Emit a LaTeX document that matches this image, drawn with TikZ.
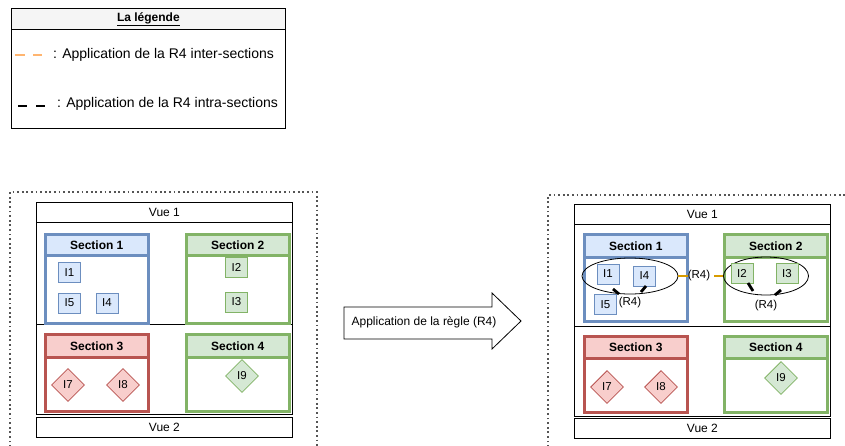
\documentclass[tikz,border=0pt]{standalone}
\usepackage{fontspec}
\setmainfont{Liberation Sans}
\usetikzlibrary{shapes.geometric}
\definecolor{bstroke}{HTML}{6C8EBF}
\definecolor{bfill}{HTML}{DAE8FC}
\definecolor{gstroke}{HTML}{82B366}
\definecolor{gfill}{HTML}{D5E8D4}
\definecolor{rstroke}{HTML}{B85450}
\definecolor{rfill}{HTML}{F8CECC}
\definecolor{orleg}{HTML}{FFB570}
\definecolor{ordia}{HTML}{D79B00}
\definecolor{hdrgrey}{HTML}{F5F5F5}
\definecolor{dotgrey}{HTML}{555555}
\tikzset{
  f14/.style={font=\fontsize{14}{16}\selectfont},
  f12/.style={font=\fontsize{12}{14}\selectfont},
  f11/.style={font=\fontsize{11.5}{13}\selectfont},
  secbody/.style={draw=#1, line width=2.5pt, minimum width=103pt, inner sep=0pt, anchor=north west, fill=white},
  sechead/.style n args={2}{draw=#1, fill=#2, line width=2.5pt, minimum width=103pt, inner sep=0pt, anchor=north west, font=\fontsize{12}{14}\selectfont\bfseries},
  itembox/.style n args={2}{draw=#1, fill=#2, line width=1pt, minimum width=22pt, minimum height=20pt, inner sep=0pt, font=\fontsize{11.5}{13}\selectfont},
  itemdia/.style n args={2}{diamond, draw=#1, fill=#2, line width=0.8pt, minimum width=33pt, minimum height=33pt, inner sep=0pt, font=\fontsize{11.5}{13}\selectfont},
  vuebox/.style={draw=black, line width=0.8pt, minimum width=256pt, minimum height=20pt, inner sep=0pt, anchor=north west, font=\fontsize{12}{14}\selectfont},
  mainbox/.style={draw=black, line width=0.8pt, minimum width=256pt, inner sep=0pt, anchor=north west},
  dotframe/.style={draw=dotgrey, line width=1.1pt, dash pattern=on 1.8pt off 2.8pt},
  intra/.style={line width=2.8pt, black},
  inter/.style={line width=2.8pt, ordia},
}
\begin{document}
\begin{tikzpicture}[x=1pt,y=-1pt]
\useasboundingbox (0,0) rectangle (845,445);
\clip (0,0) rectangle (845,445);

% ---------- legend ----------
\node[draw=black, line width=0.8pt, minimum width=274pt, minimum height=120pt, inner sep=0pt, anchor=north west] (leg) at (11,8) {};
\node[draw=black, fill=hdrgrey, line width=0.8pt, minimum width=274pt, minimum height=21pt, inner sep=0pt, anchor=north west, font=\fontsize{12}{14}\selectfont\bfseries] (leghead) at (11,8) {\underline{La légende}};
\coordinate (lo1) at (15,55); \coordinate (lo2) at (42,55);
\draw[line width=2.8pt, orleg, dash pattern=on 10pt off 8pt] (lo1) -- (lo2);
\node[f14, anchor=west, inner sep=0pt] (legt1) at (53,55) {: Application de la R4 inter-sections};
\coordinate (lb1) at (18,106); \coordinate (lb2) at (45,106);
\draw[line width=2.8pt, black, dash pattern=on 9pt off 9pt] (lb1) -- (lb2);
\node[f14, anchor=west, inner sep=0pt] (legt2) at (57,104) {: Application de la R4 intra-sections};

% ---------- left group ----------
\draw[dotframe] (10,470) -- (10,192) -- (317,192) -- (317,470);
\node[vuebox] (lv1) at (36,202) {Vue 1};
\node[mainbox, minimum height=192pt] (lmain) at (36,222) {};
\draw[line width=0.8pt] (36,324) -- (292,324);
\node[vuebox] (lv2) at (36,417) {Vue 2};

\node[secbody=bstroke, minimum height=89pt] (ls1) at (44,233) {};
\node[sechead={bstroke}{bfill}, minimum height=21pt] (ls1h) at (44,233) {Section 1};
\node[secbody=gstroke, minimum height=89pt] (ls2) at (185,233) {};
\node[sechead={gstroke}{gfill}, minimum height=21pt] (ls2h) at (185,233) {Section 2};
\node[secbody=rstroke, minimum height=77pt] (ls3) at (44,333) {};
\node[sechead={rstroke}{rfill}, minimum height=23pt] (ls3h) at (44,333) {Section 3};
\node[secbody=gstroke, minimum height=77pt] (ls4) at (185,333) {};
\node[sechead={gstroke}{gfill}, minimum height=23pt] (ls4h) at (185,333) {Section 4};

\node[itembox={bstroke}{bfill}] (li1) at (69.5,272.5) {I1};
\node[itembox={bstroke}{bfill}] (li5) at (69.5,303) {I5};
\node[itembox={bstroke}{bfill}] (li4) at (107,303) {I4};
\node[itembox={gstroke}{gfill}] (li2) at (236.5,267) {I2};
\node[itembox={gstroke}{gfill}] (li3) at (236.5,302) {I3};
\node[itemdia={rstroke}{rfill}] (li7) at (68,385) {I7};
\node[itemdia={rstroke}{rfill}] (li8) at (123,385) {I8};
\node[itemdia={gstroke}{gfill}] (li9) at (242,376) {I9};

% ---------- arrow ----------
\draw[line width=0.8pt, fill=white] (344,307) -- (492,307) -- (492,293) -- (521,321) -- (492,349) -- (492,339) -- (344,339) -- cycle;
\node[f12, inner sep=0pt] (arrt) at (424,322) {Application de la règle (R4)};

% ---------- right group ----------
\draw[dotframe] (548,470) -- (548,195) -- (870,195);
\node[vuebox] (rv1) at (574,204) {Vue 1};
\node[mainbox, minimum height=192pt] (rmain) at (574,224) {};
\draw[line width=0.8pt] (574,326) -- (830,326);
\node[vuebox] (rv2) at (574,418) {Vue 2};

\node[secbody=bstroke, minimum height=87pt] (rs1) at (583,233) {};
\node[sechead={bstroke}{bfill}, minimum height=23pt] (rs1h) at (583,233) {Section 1};
\node[secbody=gstroke, minimum height=87pt] (rs2) at (723,233) {};
\node[sechead={gstroke}{gfill}, minimum height=23pt] (rs2h) at (723,233) {Section 2};
\node[secbody=rstroke, minimum height=76pt] (rs3) at (583,335) {};
\node[sechead={rstroke}{rfill}, minimum height=22pt] (rs3h) at (583,335) {Section 3};
\node[secbody=gstroke, minimum height=76pt] (rs4) at (723,335) {};
\node[sechead={gstroke}{gfill}, minimum height=22pt] (rs4h) at (723,335) {Section 4};

\node[ellipse, draw=black, line width=0.8pt, minimum width=96pt, minimum height=36pt, inner sep=0pt] (re1) at (630,276) {};
\node[ellipse, draw=black, line width=0.8pt, minimum width=85pt, minimum height=38pt, inner sep=0pt] (re2) at (766,276) {};

\node[itembox={bstroke}{bfill}] (ri1) at (608,274) {I1};
\node[itembox={bstroke}{bfill}] (ri4) at (644.5,276) {I4};
\node[itembox={bstroke}{bfill}] (ri5) at (605.5,304.5) {I5};
\node[itembox={gstroke}{gfill}] (ri2) at (742,273.5) {I2};
\node[itembox={gstroke}{gfill}] (ri3) at (787,273.5) {I3};
\node[itemdia={rstroke}{rfill}] (ri7) at (607,387) {I7};
\node[itemdia={rstroke}{rfill}] (ri8) at (661,387) {I8};
\node[itemdia={gstroke}{gfill}] (ri9) at (781,378) {I9};

% inter-section R4
\node[f11, inner sep=0pt] (rr4m) at (699,276) {(R4)};
\draw[inter] (re1.east) -- ++(10,0);
\draw[inter] (re2.west) -- ++(-9,0);

% intra-section R4 (section 1)
\node[f11, inner sep=0pt] (rr4a) at (630,303) {(R4)};
\coordinate (a1) at (613,289); \coordinate (a2) at (619,294);
\coordinate (a3) at (646,286); \coordinate (a4) at (641,292);
\draw[intra] (a1) -- (a2);
\draw[intra] (a3) -- (a4);

% intra-section R4 (section 2)
\node[f11, inner sep=0pt] (rr4b) at (766,306) {(R4)};
\coordinate (b1) at (748,283); \coordinate (b2) at (753,291);
\coordinate (b3) at (781,290); \coordinate (b4) at (775,295);
\draw[intra] (b1) -- (b2);
\draw[intra] (b3) -- (b4);
\end{tikzpicture}
\end{document}
